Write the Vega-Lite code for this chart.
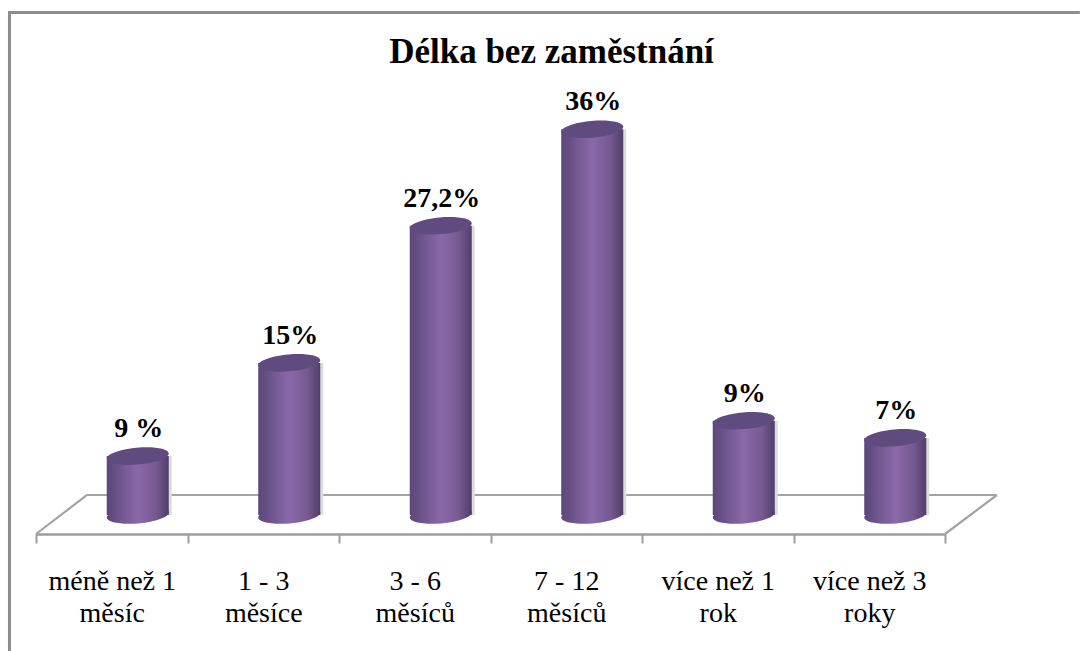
{
"$schema":"https://vega.github.io/schema/vega-lite/v6.json",
"width":909,"height":454,
"autosize":{"type":"none"},
"padding":{"left":36,"right":135,"top":80,"bottom":117},
"background":"white",
"title":{"text":"Délka bez zaměstnání","font":"Liberation Serif","fontSize":35,"fontWeight":"bold","color":"#000000","dx":61,"offset":-64,"anchor":"middle"},
"config":{"view":{"stroke":null}},
"datasets":{
"cats":[
{"cat":"méně než 1|měsíc","plotted":5.5,"label":"9 %"},
{"cat":"1 - 3|měsíce","plotted":14.2,"label":"15%"},
{"cat":"3 - 6|měsíců","plotted":27,"label":"27,2%"},
{"cat":"7 - 12|měsíců","plotted":36,"label":"36%"},
{"cat":"více než 1|rok","plotted":8.8,"label":"9%"},
{"cat":"více než 3|roky","plotted":7.2,"label":"7%"}],
"floor":[
{"seg":"back","pos":0.337,"level":1.87},{"seg":"back","pos":6.343,"level":1.87},
{"seg":"left","pos":0,"level":-1.77},{"seg":"left","pos":0.337,"level":1.87},
{"seg":"right","pos":6,"level":-1.77},{"seg":"right","pos":6.343,"level":1.87}],
"frame":[
{"pos":-0.175,"level":-12.7},{"pos":-0.175,"level":46.9},{"pos":6.89,"level":46.9}]
},
"data":{"name":"cats"},
"layer":[
{"data":{"name":"frame"},"mark":{"type":"line","stroke":"#8c8c8c","strokeWidth":3,"clip":false},
 "encoding":{"x":{"field":"pos","type":"quantitative","scale":{"domain":[0,6],"nice":false,"zero":false},"axis":null},
 "y":{"field":"level","type":"quantitative","scale":{"domain":[-1.77,40.6],"nice":false,"zero":false},"axis":null},"order":{"field":"level","type":"quantitative"}}},
{"data":{"name":"floor"},"mark":{"type":"line","stroke":"#a3a3a3","strokeWidth":2.2,"clip":false},
 "encoding":{"x":{"field":"pos","type":"quantitative","scale":{"domain":[0,6],"nice":false,"zero":false},"axis":null},
 "y":{"field":"level","type":"quantitative"},"detail":{"field":"seg"}}},
{"mark":{"type":"bar","size":62,"xOffset":29,"color":"#dcdcdc"},
 "encoding":{"x":{"field":"cat","type":"nominal","sort":null,"axis":null},"y":{"field":"plotted","type":"quantitative"},"y2":{"datum":0}}},
{"mark":{"type":"bar","size":62,"xOffset":26,"color":{"gradient":"linear","x1":0,"x2":1,"y1":0,"y2":0,"stops":[{"offset":0,"color":"#5b4679"},{"offset":0.5,"color":"#8a69aa"},{"offset":0.8,"color":"#75598f"},{"offset":1,"color":"#503e6b"}]}},
 "encoding":{"x":{"field":"cat","type":"nominal","sort":null,"scale":{"paddingInner":0,"paddingOuter":0},
  "axis":{"title":null,"labelAngle":0,"labelExpr":"split(datum.label,'|')","labelFont":"Liberation Serif","labelFontSize":28,"labelColor":"#000000","labelLineHeight":32,"labelPadding":38,"labelLimit":0,"labelBaseline":"middle","tickBand":"extent","tickSize":9,"tickColor":"#9c9c9c","tickWidth":2,"domainColor":"#9c9c9c","domainWidth":2.5,"grid":false}},
 "y":{"field":"plotted","type":"quantitative"},"y2":{"datum":0}}},
{"mark":{"type":"point","filled":true,"size":3844,"opacity":1,"xOffset":26,"shape":"M-1,0.09 A1,0.27 -5 1 1 1,-0.09 A1,0.27 -5 1 1 -1,0.09 Z","color":{"gradient":"linear","x1":0,"x2":1,"y1":0,"y2":0,"stops":[{"offset":0,"color":"#5b4679"},{"offset":0.5,"color":"#8a69aa"},{"offset":0.8,"color":"#75598f"},{"offset":1,"color":"#503e6b"}]}},
 "encoding":{"x":{"field":"cat","type":"nominal","sort":null,"axis":null},"y":{"datum":0,"type":"quantitative"}}},
{"mark":{"type":"point","filled":true,"size":3844,"opacity":1,"xOffset":26,"shape":"M-1,0.09 A1,0.27 -5 1 1 1,-0.09 A1,0.27 -5 1 1 -1,0.09 Z","color":"#5f4b7f"},
 "encoding":{"x":{"field":"cat","type":"nominal","sort":null,"axis":null},"y":{"field":"plotted","type":"quantitative"}}},
{"mark":{"type":"text","font":"Liberation Serif","fontSize":28,"fontWeight":"bold","color":"#000000","xOffset":27,"yOffset":-27},
 "encoding":{"x":{"field":"cat","type":"nominal","sort":null,"axis":null},"y":{"field":"plotted","type":"quantitative"},"text":{"field":"label"}}}
],
"resolve":{"scale":{"x":"independent"},"axis":{"x":"independent"}}
}
